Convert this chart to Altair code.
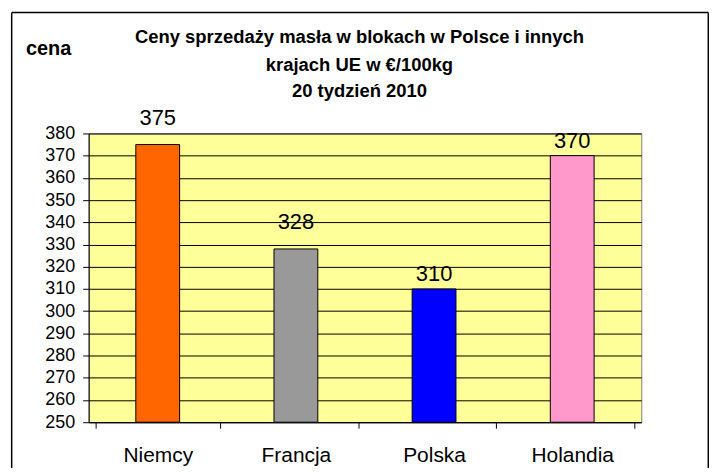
import altair as alt
import pandas as pd

# --- data ---
kraje = ["Niemcy", "Francja", "Polska", "Holandia"]
ceny = [375, 328, 310, 370]
kolory = ["#FF6600", "#999999", "#0000FF", "#FF99CC"]
y_ticks = list(range(250, 390, 10))
y_min, y_max = 250, 380
title_lines = ["Ceny sprzedaży masła w blokach w Polsce i  innych",
               "krajach UE w €/100kg",
               "20 tydzień 2010"]
y_label = "cena"

df = pd.DataFrame({"kraj": kraje, "cena": ceny})
one = pd.DataFrame({"a": [0]})

FONT = "Liberation Sans"
W, H = 555, 290

x_enc = alt.X("kraj:N", sort=kraje, title=None,
              scale=alt.Scale(domain=kraje),
              axis=alt.Axis(labelAngle=0, labelFontSize=21, labelFont=FONT,
                            labelColor="#000000", labelBaseline="alphabetic",
                            labelPadding=33, tickBand="extent", tickSize=6,
                            tickColor="#000000", domainColor="#000000",
                            grid=False))
y_enc = alt.Y("cena:Q", title=None,
              scale=alt.Scale(domain=[y_min, y_max], nice=False, zero=False),
              axis=alt.Axis(values=y_ticks, labelFontSize=18, labelFont=FONT,
                            labelColor="#000000", labelPadding=8, tickSize=6,
                            labelOverlap=False, labelBound=False,
                            tickColor="#000000", domainColor="#000000",
                            grid=True, gridColor="#000000", gridWidth=1))

bars = alt.Chart(df).mark_bar(size=44, stroke="#000000", strokeWidth=1).encode(
    x=x_enc, y=y_enc, y2=alt.datum(y_min),
    color=alt.Color("kraj:N", scale=alt.Scale(domain=kraje, range=kolory), legend=None),
)

def value_labels(names, dy):
    return alt.Chart(df).transform_filter(
        alt.FieldOneOfPredicate(field="kraj", oneOf=names)
    ).mark_text(dy=dy, baseline="alphabetic", fontSize=22, font=FONT, color="#000000").encode(
        x=x_enc, y=y_enc, text="cena:Q")

labels_hi = value_labels(["Niemcy", "Francja"], -20)
labels_lo = value_labels(["Polska", "Holandia"], -8)

title_layers = []
for line, yy in zip(title_lines, [-90.8, -62.5, -36.8]):
    title_layers.append(
        alt.Chart(one).mark_text(align="center", baseline="alphabetic", fontSize=18.5,
                                 fontWeight="bold", font=FONT, color="#000000").encode(
            x=alt.value(272), y=alt.value(yy), text=alt.value(line)))

cena_txt = alt.Chart(one).mark_text(align="left", baseline="alphabetic", fontSize=20,
                                    fontWeight="bold", font=FONT, color="#000000").encode(
    x=alt.value(-63), y=alt.value(-78.5), text=alt.value(y_label))

# outer frame (left, top, right edges)
fl, fr, ft, fb = -77.3, 622.3, -121.5, 400
frame_style = dict(color="#000000", strokeWidth=1.5)
frame_left = alt.Chart(one).mark_rule(**frame_style).encode(
    x=alt.value(fl), y=alt.value(ft), y2=alt.value(fb))
frame_right = alt.Chart(one).mark_rule(**frame_style).encode(
    x=alt.value(fr), y=alt.value(ft), y2=alt.value(fb))
frame_top = alt.Chart(one).mark_rule(**frame_style).encode(
    x=alt.value(fl), x2=alt.value(fr), y=alt.value(ft))

chart = alt.layer(bars, labels_hi, labels_lo, *title_layers, cena_txt,
                  frame_left, frame_right, frame_top).properties(
    width=W, height=H,
    autosize=alt.AutoSizeParams(type="none"),
    padding={"left": 81, "top": 125, "right": 68, "bottom": 45},
    background="#FFFFFF",
).configure_view(fill="#FFFF99", stroke="#808080", strokeWidth=1)

chart.save("out.html", embed_options={"renderer": "svg", "actions": False})
